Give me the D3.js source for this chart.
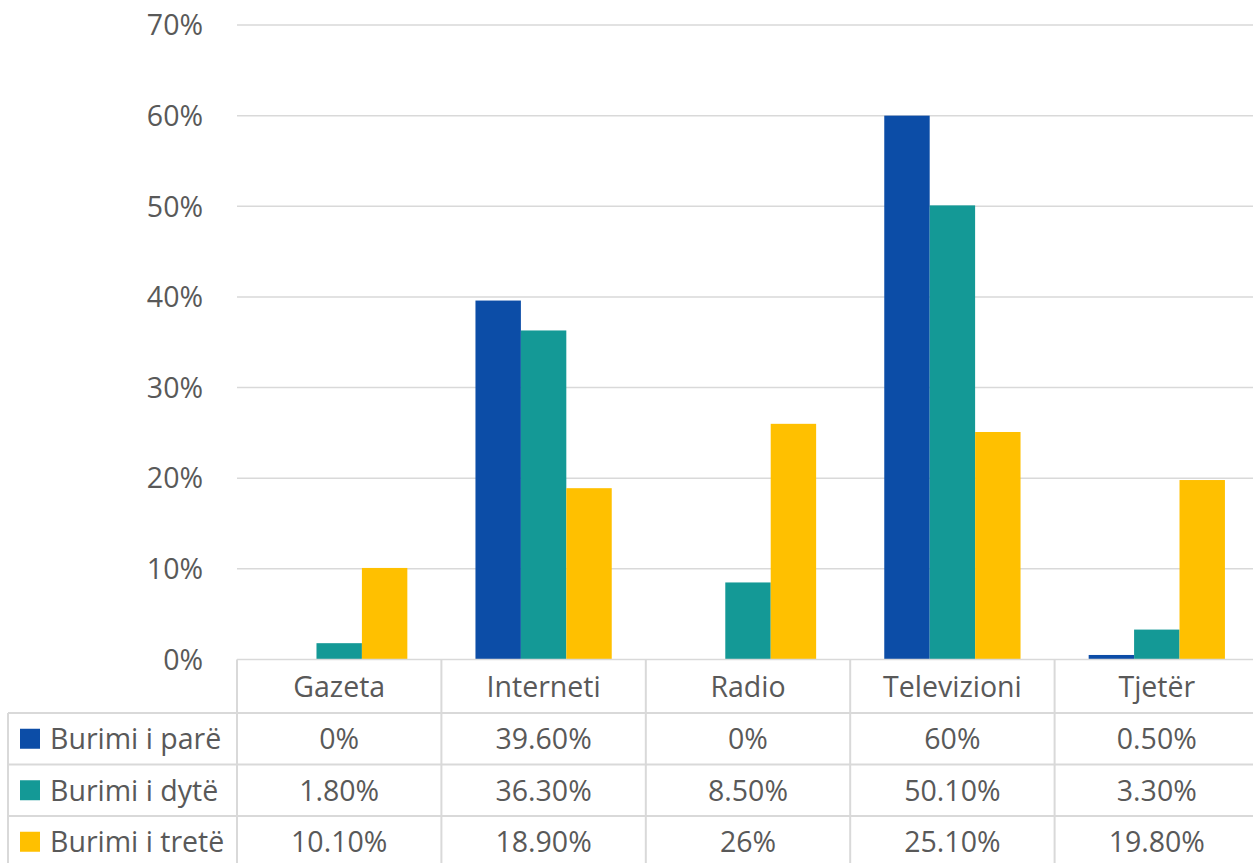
<!DOCTYPE html>
<html><head><meta charset="utf-8">
<script src="https://cdn.jsdelivr.net/npm/d3@7"></script>
<style>body{margin:0;background:#fff}svg{display:block}</style>
</head><body>
<svg id="c" width="1253" height="863"></svg>
<script>
const categories = ["Gazeta", "Interneti", "Radio", "Televizioni", "Tjetër"];
const seriesNames = ["Burimi i parë", "Burimi i dytë", "Burimi i tretë"];
const seriesColors = ["#0C4DA7", "#149996", "#FFC000"];
const burimiPare = [0, 39.6, 0, 60, 0.5];
const burimiDyte = [1.8, 36.3, 8.5, 50.1, 3.3];
const burimiTrete = [10.1, 18.9, 26, 25.1, 19.8];
const tableLabels = [
  ["0%", "39.60%", "0%", "60%", "0.50%"],
  ["1.80%", "36.30%", "8.50%", "50.10%", "3.30%"],
  ["10.10%", "18.90%", "26%", "25.10%", "19.80%"]
];
const yTicks = [0, 10, 20, 30, 40, 50, 60, 70];
const series = [burimiPare, burimiDyte, burimiTrete];

(function () {
const svg = d3.select("#c");
const font = "'Open Sans', 'Noto Sans', sans-serif";
const textColor = "#595959";
const gridColor = "#d9d9d9";
const fs = 28.5;

const pLeft = 237, pRight = 1259, pTop = 25, pBottom = 659.5;
const y = d3.scaleLinear().domain([0, 70]).range([pBottom, pTop]);
const x0 = d3.scaleBand().domain(categories).range([pLeft, pRight]).paddingInner(0).paddingOuter(0);
const bw = x0.bandwidth() / 4.5;
const x1 = d3.scaleBand().domain(d3.range(3)).range([bw * 0.75, bw * 3.75]);

svg.append("g").selectAll("line").data(yTicks.filter(d => d > 0)).join("line")
  .attr("x1", pLeft).attr("x2", pRight)
  .attr("y1", d => y(d)).attr("y2", d => y(d))
  .attr("stroke", gridColor).attr("stroke-width", 1.5);

svg.append("g").selectAll("text").data(yTicks).join("text")
  .attr("x", 203).attr("y", d => y(d)).attr("dy", "0.36em")
  .attr("text-anchor", "end").attr("font-family", font).attr("font-size", fs)
  .attr("fill", textColor).text(d => d + "%");

const bars = svg.append("g");
series.forEach((vals, si) => {
  bars.selectAll(null).data(vals.map((v, i) => ({v, c: categories[i]}))).join("rect")
    .attr("x", d => x0(d.c) + x1(si))
    .attr("width", x1.bandwidth())
    .attr("y", d => y(d.v))
    .attr("height", d => pBottom - y(d.v))
    .attr("fill", seriesColors[si]);
});

svg.append("line").attr("x1", pLeft).attr("x2", pRight).attr("y1", pBottom).attr("y2", pBottom)
  .attr("stroke", gridColor).attr("stroke-width", 1.5);

const rowH = 51.5;
const headerBottom = 713;
const tableLeft = 8;
const tg = svg.append("g");
[0, 1, 2].forEach(r => {
  tg.append("line").attr("x1", tableLeft).attr("x2", pRight)
    .attr("y1", headerBottom + r * rowH).attr("y2", headerBottom + r * rowH)
    .attr("stroke", gridColor).attr("stroke-width", 2);
});
categories.forEach(c => {
  tg.append("line").attr("x1", x0(c)).attr("x2", x0(c))
    .attr("y1", pBottom).attr("y2", 863)
    .attr("stroke", gridColor).attr("stroke-width", 2);
});
tg.append("line").attr("x1", tableLeft).attr("x2", tableLeft)
  .attr("y1", headerBottom).attr("y2", 863)
  .attr("stroke", gridColor).attr("stroke-width", 2);

tg.selectAll("text.h").data(categories).join("text").attr("class", "h")
  .attr("x", d => x0(d) + x0.bandwidth() / 2).attr("y", (pBottom + headerBottom) / 2)
  .attr("dy", "0.36em").attr("text-anchor", "middle")
  .attr("font-family", font).attr("font-size", fs).attr("fill", textColor)
  .text(d => d);

tableLabels.forEach((row, r) => {
  const cy = headerBottom + r * rowH + rowH / 2;
  tg.append("rect").attr("x", 20).attr("y", cy - 10).attr("width", 20).attr("height", 20)
    .attr("fill", seriesColors[r]);
  tg.append("text").attr("x", 50).attr("y", cy).attr("dy", "0.36em")
    .attr("font-family", font).attr("font-size", fs).attr("fill", textColor)
    .text(seriesNames[r]);
  row.forEach((t, i) => {
    tg.append("text").attr("x", x0(categories[i]) + x0.bandwidth() / 2).attr("y", cy)
      .attr("dy", "0.36em").attr("text-anchor", "middle")
      .attr("font-family", font).attr("font-size", fs).attr("fill", textColor)
      .text(t);
  });
});
})();
</script>
</body></html>
